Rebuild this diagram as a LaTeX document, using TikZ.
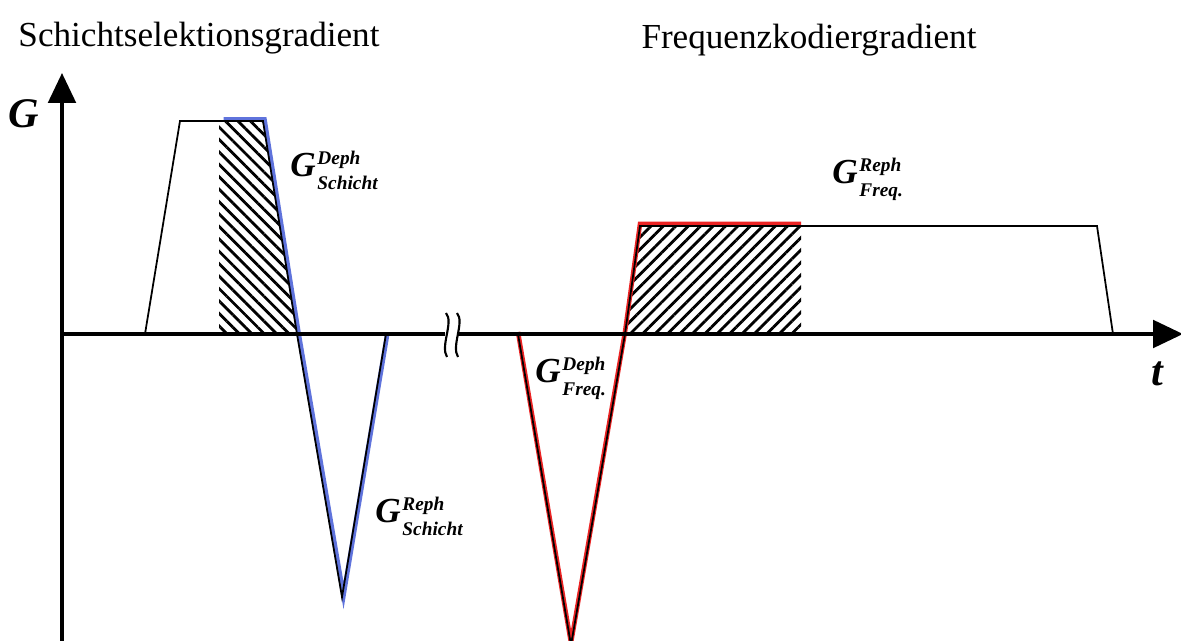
\documentclass[tikz,border=0pt]{standalone}
\usepackage{fontspec}
\setmainfont{Liberation Serif}
\usetikzlibrary{arrows.meta,patterns.meta}
\definecolor{sliceblue}{RGB}{95,115,220}
\definecolor{freqred}{RGB}{235,35,35}
\newcommand{\gsym}[2]{G\kern1pt{\fontsize{11}{14}\selectfont\begin{tabular}[c]{@{}l@{}}#1\\#2\end{tabular}}}
\tikzset{
  axis/.style={line width=2.2pt,-{Triangle[length=0.6cm,width=0.55cm]}},
  puls/.style={line width=1pt,line join=miter},
  slicecol/.style={line width=2.6pt,draw=sliceblue,line join=miter},
  freqcol/.style={line width=2.6pt,draw=freqred,line join=miter},
  brk/.style={line width=1.2pt},
  glab/.style={font=\fontsize{20}{22}\selectfont\bfseries\itshape,anchor=west,inner sep=0pt},
  axlab/.style={font=\fontsize{24}{26}\selectfont\bfseries\itshape,inner sep=0pt},
  title/.style={font=\fontsize{20}{22}\selectfont,inner sep=0pt},
  hatchA/.style={pattern={Lines[angle=-45,distance=5pt,line width=1.6pt]}},
  hatchB/.style={pattern={Lines[angle=45,distance=5pt,line width=1.6pt]}},
}

\begin{document}
\begin{tikzpicture}[x=0.02cm,y=-0.02cm]
\useasboundingbox (0,0) rectangle (1181,641);
\clip (0,0) rectangle (1181,641);
% Achsen
\coordinate (o) at (62,334);
\coordinate (gtop) at (62,73);
\coordinate (gbot) at (62,645);
\coordinate (tend) at (1183,334);
% Schichtselektion
\coordinate (s0) at (145,334);
\coordinate (s1) at (180,121);
\coordinate (s2) at (263,121);
\coordinate (s3) at (297,334);
\coordinate (s4) at (342,597);
\coordinate (s5) at (386,334);
\coordinate (h0) at (219,121);
\coordinate (h1) at (219,334);
\coordinate (b0) at (222,121);
% Frequenzkodierung
\coordinate (f0) at (518,334);
\coordinate (f1) at (571,645);
\coordinate (f2) at (625,334);
\coordinate (f3) at (640,226);
\coordinate (f4) at (801,226);
\coordinate (f5) at (1097,226);
\coordinate (f6) at (1113,334);
\coordinate (k0) at (801,334);

\fill[hatchA] (h0) -- (s2) -- (s3) -- (h1) -- cycle;
\fill[hatchB] (f2) -- (f3) -- (f4) -- (k0) -- cycle;

\draw[slicecol,transform canvas={shift={(0.03cm,0.03cm)}}] (b0) -- (s2) -- (s3) -- (s4) -- (s5);
\draw[freqcol,transform canvas={shift={(0cm,0.04cm)}}] (f0) -- (f1) -- (f2) -- (f3) -- (f4);

\draw[puls] (s0) -- (s1) -- (s2) -- (s3) -- (s4) -- (s5);
\draw[puls] (f0) -- (f1) -- (f2) -- (f3) -- (f5) -- (f6);

\draw[axis] (gbot) -- (gtop);
\draw[axis] (o) -- (tend);

% Unterbrechung
\fill[white] (445,328) rectangle (458,341);
\draw[brk] (446,313) .. controls (454,322) and (440,346) .. (447,357);
\draw[brk] (457,313) .. controls (465,322) and (451,346) .. (458,357);

\node[axlab] (glab) at (24,114) {G};
\node[axlab] (tlab) at (1157,374) {t};
\node[title] (ts) at (199,38) {Schichtselektionsgradient};
\node[title] (tf) at (809,40) {Frequenzkodiergradient};
\node[glab] (ds) at (290,172) {\gsym{Deph}{Schicht}};
\node[glab] (rs) at (375,518) {\gsym{Reph}{Schicht}};
\node[glab] (df) at (535,378) {\gsym{Deph}{Freq.}};
\node[glab] (rf) at (832,179) {\gsym{Reph}{Freq.}};
\end{tikzpicture}
\end{document}
